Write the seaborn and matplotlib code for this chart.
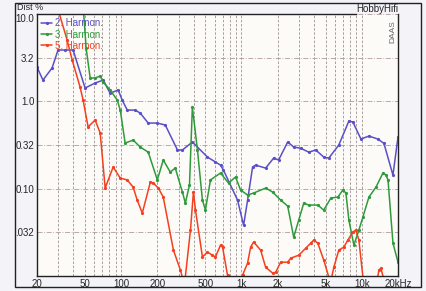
import numpy as np
import pandas as pd
import seaborn as sns
import matplotlib
matplotlib.use('Agg')
import matplotlib.pyplot as plt
from matplotlib.patches import Rectangle
from matplotlib.ticker import FixedLocator, NullLocator, NullFormatter

# values (Hz, %)
f_h2 = [20, 22.4, 26.7, 29.9, 34.2, 39.9, 50.2, 60.8, 71, 81, 94.6, 102, 112.5, 131, 144, 168,
        200, 233, 294, 323, 391, 522, 608, 670, 709, 928, 1042, 1125, 1238, 1312, 1589, 1852,
        2038, 2422, 2718, 3110, 3624, 4146, 4832, 5322, 6445, 7812, 8433, 9840, 11460, 13620,
        15280, 18160, 20000]
d_h2 = [2.47, 1.75, 2.41, 3.87, 3.87, 3.87, 1.42, 1.62, 1.75, 1.24, 1.35, 1.035, 0.794, 0.794,
        0.734, 0.564, 0.564, 0.535, 0.277, 0.277, 0.342, 0.230, 0.202, 0.186, 0.163, 0.074,
        0.038, 0.074, 0.177, 0.186, 0.172, 0.224, 0.213, 0.342, 0.30, 0.29, 0.262, 0.277, 0.230,
        0.224, 0.316, 0.595, 0.58, 0.37, 0.40, 0.37, 0.33, 0.143, 0.39]

f_h3 = [48.3, 51.2, 55.3, 60.8, 67, 71, 81, 92.8, 98.4, 108, 126, 144, 168, 200, 224, 256, 282,
        323, 342, 370, 391, 431, 474, 502, 553, 670, 781, 893, 984, 1125, 1262, 1589, 1816, 2118,
        2422, 2718, 2993, 3296, 3624, 4309, 4832, 5530, 6325, 6965, 7380, 7812, 8597, 9462, 10220,
        11460, 13120, 14990, 15890, 16520, 18160, 20000]
d_h3 = [12.7, 4.08, 1.85, 1.85, 1.95, 1.66, 1.35, 1.035, 0.794, 0.333, 0.36, 0.30, 0.262, 0.126,
        0.213, 0.155, 0.172, 0.0914, 0.0684, 0.11, 0.861, 0.277, 0.074, 0.0569, 0.126, 0.151,
        0.116, 0.136, 0.0964, 0.0845, 0.0891, 0.1016, 0.0914, 0.074, 0.0632, 0.0279, 0.0437,
        0.0684, 0.0649, 0.0649, 0.0569, 0.078, 0.0801, 0.0964, 0.0891, 0.0437, 0.0226, 0.0336,
        0.0473, 0.0801, 0.104, 0.151, 0.143, 0.126, 0.0238, 0.0144]

f_h5 = [28.3, 35.6, 39.2, 45.6, 48.3, 53.2, 60.8, 67, 73.7, 85.9, 98.4, 112.5, 126, 136, 150,
        175, 185, 204, 224, 272, 311, 336, 377, 399, 415, 474, 522, 574, 608, 670, 697, 766, 843,
        928, 1021, 1125, 1192, 1262, 1443, 1589, 1816, 1924, 2118, 2422, 2567, 2993, 3424, 3769,
        3990, 4309, 4832, 5322, 5530, 5860, 6445, 7096, 7660, 8433, 8934, 9462, 10220, 11040,
        12860, 13890, 14420, 15280, 16190, 20000]
d_h5 = [14.5, 5.04, 2.97, 1.46, 1.035, 0.508, 0.611, 0.434, 0.1016, 0.177, 0.132, 0.126, 0.104,
        0.074, 0.0525, 0.119, 0.116, 0.1016, 0.0801, 0.0198, 0.0117, 0.0079, 0.0336, 0.0914,
        0.0569, 0.0165, 0.0188, 0.0173, 0.0165, 0.0226, 0.0214, 0.0102, 0.0065, 0.0065, 0.0102,
        0.0141, 0.0214, 0.0245, 0.0198, 0.0126, 0.0108, 0.011, 0.0144, 0.0144, 0.016, 0.0173,
        0.0208, 0.0238, 0.0258, 0.0238, 0.0152, 0.0097, 0.0087, 0.0126, 0.0198, 0.0214, 0.0258,
        0.0318, 0.0336, 0.0258, 0.0097, 0.0065, 0.0065, 0.0117, 0.0123, 0.009, 0.0065, 0.0065]

series = ['2. Harmon.', '3. Harmon.', '5. Harmon.']
colors = ['#5a4fc6', '#2f9a3c', '#f4401e']

x_ticks = [20, 50, 100, 200, 500, 1000, 2000, 5000, 10000, 20000]
x_labels = ['20', '50', '100', '200', '500', '1k', '2k', '5k', '10k', '20kHz']
y_ticks = [10, 3.162, 1, 0.3162, 0.1, 0.03162]
y_labels = ['10.0', '3.2', '1.0', '0.32', '0.10', '.032']

sns.set_style('white')
plt.rcParams['font.family'] = ['Liberation Sans', 'DejaVu Sans']

fig = plt.figure(figsize=(4.27, 2.91), dpi=100, facecolor='#f3f3f8')
ax = fig.add_axes([37/427, 1 - 276/291, 361/427, 262/291])
ax.set_facecolor('#fdfbf8')

for name, fx, dy, c in zip(series, [f_h2, f_h3, f_h5], [d_h2, d_h3, d_h5], colors):
    df = pd.DataFrame({'f': fx, 'd': dy})
    sns.lineplot(data=df, x='f', y='d', ax=ax, color=c, lw=1.1, marker='o', markersize=2.3,
                 markeredgewidth=0, label=name, estimator=None)

ax.set_xscale('log')
ax.set_yscale('log')
ax.set_xlim(20, 20000)
ax.set_ylim(0.01, 10)

ax.xaxis.set_major_locator(FixedLocator(x_ticks))
ax.set_xticklabels(x_labels)
minors = [m * 10 ** e for e in range(1, 5) for m in range(2, 10)]
minors = [v for v in minors if 20 < v < 20000 and v not in x_ticks]
ax.xaxis.set_minor_locator(FixedLocator(minors))
ax.xaxis.set_minor_formatter(NullFormatter())
ax.yaxis.set_major_locator(FixedLocator(y_ticks))
ax.set_yticklabels(y_labels)
ax.yaxis.set_minor_locator(NullLocator())
# top label sits just under the frame line, as in the reference
ax.get_yticklabels()[0].set_va('top')

ax.grid(axis='x', which='both', color='#9a9292', ls=(0, (3, 2)), lw=0.6)
ax.grid(axis='y', which='major', color='#b09a9a', ls=(0, (6, 2, 1, 2)), lw=0.6)
ax.tick_params(length=0, labelsize=7, pad=2)
ax.set_xlabel('')
ax.set_ylabel('')

for s in ax.spines.values():
    s.set_color('#222222')
    s.set_linewidth(1.0)
ax.spines['top'].set_bounds(20, 8900)

leg = ax.legend(loc='upper left', bbox_to_anchor=(0.0, 1.0), frameon=False, fontsize=7,
                handlelength=1.1, handletextpad=0.3, labelspacing=0.12, borderpad=0.35,
                borderaxespad=0.1, labelcolor='linecolor')

fig.text(17/427, 1 - 7/291, 'Dist %', fontsize=6.5, va='center', ha='left')
fig.text(398/427, 1 - 9/291, 'HobbyHifi', fontsize=7, va='center', ha='right')
ax.text(0.985, 0.975, 'DAAS', transform=ax.transAxes, rotation=90, fontsize=6,
        color='#666666', ha='center', va='top')

fig.patches.append(Rectangle((15/427, 1 - 287/291), 406/427, 284/291, transform=fig.transFigure,
                             fill=False, edgecolor='#222222', lw=1.0))

fig.savefig('out.png', dpi=100, facecolor=fig.get_facecolor())
